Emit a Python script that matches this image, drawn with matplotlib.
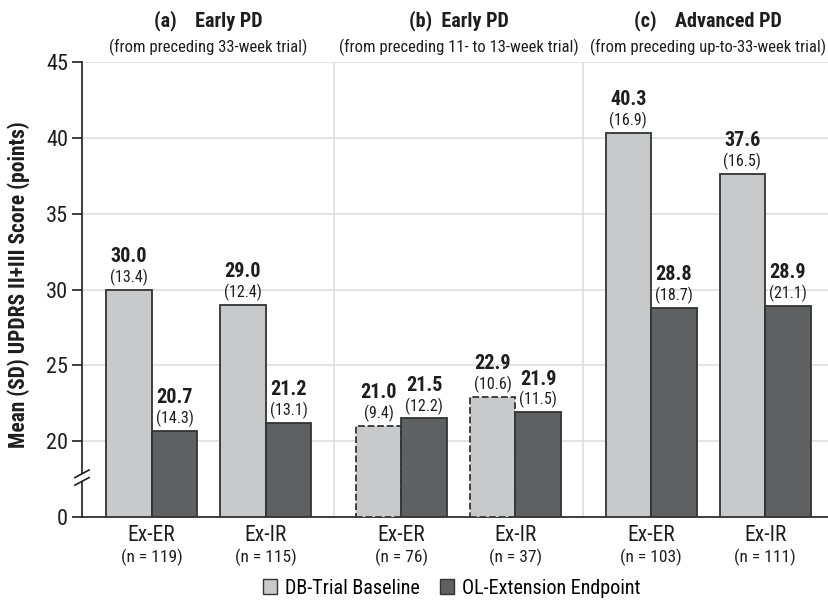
import matplotlib
matplotlib.use('Agg')
import matplotlib.pyplot as plt
from matplotlib.patches import Patch, Polygon
import matplotlib.transforms as mtransforms
import numpy as np

plt.rcParams['font.family'] = ['Roboto Condensed', 'DejaVu Sans']

# data
groups = ['Ex-ER', 'Ex-IR', 'Ex-ER', 'Ex-IR', 'Ex-ER', 'Ex-IR']
n_labels = ['(n = 119)', '(n = 115)', '(n = 76)', '(n = 37)', '(n = 103)', '(n = 111)']
db_mean = [30.0, 29.0, 21.0, 22.9, 40.3, 37.6]
db_sd = [13.4, 12.4, 9.4, 10.6, 16.9, 16.5]
ol_mean = [20.7, 21.2, 21.5, 21.9, 28.8, 28.9]
ol_sd = [14.3, 13.1, 12.2, 11.5, 18.7, 21.1]
panel_titles = ['(a)    Early PD', '(b)  Early PD', '(c)    Advanced PD']
panel_subtitles = ['(from preceding 33-week trial)',
                   '(from preceding 11- to 13-week trial)',
                   '(from preceding up-to-33-week trial)']
ytick_vals = [0, 20, 25, 30, 35, 40, 45]

DB_COLOR = '#c8c9cb'
OL_COLOR = '#5f6062'
EDGE = '#333333'
GRID = '#dedede'
TXT = '#1e1e1e'

# broken axis: 0..20 squeezed into one 5-point step
def ymap(v):
    return v if v >= 20 else 15 + v * 5.0 / 20


fig = plt.figure(figsize=(8.29, 6.03), dpi=100)
ax = fig.add_axes([82 / 829, 1 - 517 / 603, 1 - 82 / 829, (517 - 62) / 603])

gap = 1.19
centers = np.array([0, 1, gap + 1, gap + 2, 2 * gap + 2, 2 * gap + 3])
w = 0.4
base = ymap(0)

for i, c in enumerate(centers):
    dashed = i in (2, 3)
    ax.bar(c - w / 2, ymap(db_mean[i]) - base, w, bottom=base, color=DB_COLOR,
           edgecolor=EDGE, linewidth=1.3, linestyle='--' if dashed else '-', zorder=3)
    ax.bar(c + w / 2, ymap(ol_mean[i]) - base, w, bottom=base, color=OL_COLOR,
           edgecolor=EDGE, linewidth=1.3, zorder=3)
    for xx, m, s in ((c - w / 2, db_mean[i], db_sd[i]), (c + w / 2, ol_mean[i], ol_sd[i])):
        ax.annotate('%.1f' % m, (xx, ymap(m)), xytext=(0, 24), textcoords='offset points',
                    ha='center', va='center', fontsize=14.5, fontweight='bold', color=TXT)
        ax.annotate('(%.1f)' % s, (xx, ymap(m)), xytext=(0, 9), textcoords='offset points',
                    ha='center', va='center', fontsize=11.5, color=TXT)

# separators between panels
seps = [(centers[1] + centers[2]) / 2, (centers[3] + centers[4]) / 2]
for s in seps:
    ax.axvline(s, color=GRID, linewidth=1.2, zorder=1)

ax.set_xlim(-0.611, 5.94)
ax.set_ylim(15, 45)
ax.set_yticks([ymap(v) for v in ytick_vals])
ax.set_yticklabels([str(v) for v in ytick_vals], fontsize=16, color=TXT)
for v in ytick_vals[1:]:
    ax.axhline(v, color=GRID, linewidth=1.2, zorder=1)

ax.set_xticks(centers)
ax.set_xticklabels([])
ax.tick_params(axis='x', length=0)
ax.tick_params(axis='y', length=7, width=1.2, color=TXT, pad=3)
for i, c in enumerate(centers):
    ax.text(c, -0.040, groups[i], transform=ax.get_xaxis_transform(),
            ha='center', va='center', fontsize=15.5, color=TXT)
    ax.text(c, -0.089, n_labels[i], transform=ax.get_xaxis_transform(),
            ha='center', va='center', fontsize=12.5, color=TXT)

# panel titles
pair_centers = [(centers[0] + centers[1]) / 2, (centers[2] + centers[3]) / 2,
                (centers[4] + centers[5]) / 2]
for pc, t, st in zip(pair_centers, panel_titles, panel_subtitles):
    ax.text(pc, 1.090, t, transform=ax.get_xaxis_transform(), ha='center', va='center',
            fontsize=14.5, fontweight='bold', color=TXT)
    ax.text(pc, 1.033, st, transform=ax.get_xaxis_transform(), ha='center', va='center',
            fontsize=12, color=TXT)

for side in ('top', 'right'):
    ax.spines[side].set_visible(False)
for side in ('left', 'bottom'):
    ax.spines[side].set_linewidth(1.2)
    ax.spines[side].set_color(TXT)

ax.set_ylabel('Mean (SD) UPDRS II+III Score (points)', fontsize=15.5, fontweight='bold',
              color=TXT, va='center')
ax.yaxis.set_label_coords(-0.085, 0.51)

# break marks on the y axis
trans = mtransforms.blended_transform_factory(ax.transAxes, ax.transData)
dx = 0.0095
y1, y2 = 17.35, 17.85
ax.add_patch(Polygon([[-dx, y1 - 0.25], [dx, y1 + 0.25], [dx, y2 + 0.25], [-dx, y2 - 0.25]],
                     closed=True, facecolor='white', edgecolor='none', transform=trans,
                     clip_on=False, zorder=5))
for yy in (y1, y2):
    ax.plot([-dx, dx], [yy - 0.25, yy + 0.25], color=TXT, linewidth=1.2,
            transform=trans, clip_on=False, zorder=6)

handles = [Patch(facecolor=DB_COLOR, edgecolor=EDGE, linewidth=1.0, label='DB-Trial Baseline'),
           Patch(facecolor=OL_COLOR, edgecolor=EDGE, linewidth=1.0, label='OL-Extension Endpoint')]
fig.legend(handles=handles, loc='center', bbox_to_anchor=(452 / 829, 1 - 588 / 603), ncol=2,
           frameon=False, fontsize=14.5, handlelength=0.7, handleheight=0.7,
           handletextpad=0.4, columnspacing=1.0)

fig.savefig('out.png', dpi=100)
